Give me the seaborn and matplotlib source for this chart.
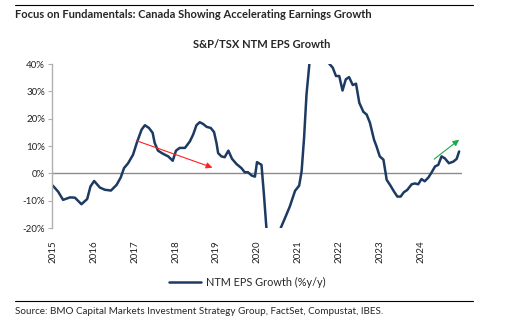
import numpy as np
import pandas as pd
import matplotlib
matplotlib.use("Agg")
import matplotlib.pyplot as plt
import seaborn as sns
from matplotlib.lines import Line2D

# S&P/TSX NTM EPS growth, % y/y (decimal year, value)
years = [2015.00, 2015.13, 2015.25, 2015.42, 2015.54, 2015.70, 2015.84, 2015.92,
         2016.01, 2016.15, 2016.27, 2016.42, 2016.56, 2016.66, 2016.74, 2016.84,
         2016.96, 2017.06, 2017.17, 2017.25, 2017.35, 2017.44, 2017.49, 2017.57,
         2017.70, 2017.82, 2017.93, 2018.01, 2018.10, 2018.23, 2018.35, 2018.43,
         2018.51, 2018.59, 2018.67, 2018.76, 2018.86, 2018.94, 2019.00, 2019.04,
         2019.12, 2019.20, 2019.29, 2019.38, 2019.49, 2019.61, 2019.69, 2019.77,
         2019.86, 2019.94, 2019.99, 2020.10, 2020.16, 2020.22, 2020.30, 2020.40,
         2020.50, 2020.57, 2020.67, 2020.79, 2020.92, 2021.02, 2021.08, 2021.14,
         2021.20, 2021.27, 2021.35, 2021.45, 2021.55, 2021.65, 2021.76, 2021.84,
         2021.92, 2022.00, 2022.08, 2022.16, 2022.24, 2022.33, 2022.41, 2022.49,
         2022.59, 2022.67, 2022.75, 2022.85, 2022.91, 2022.99, 2023.08, 2023.16,
         2023.24, 2023.34, 2023.42, 2023.50, 2023.58, 2023.66, 2023.77, 2023.85,
         2023.93, 2024.01, 2024.09, 2024.18, 2024.26, 2024.34, 2024.42, 2024.50,
         2024.58, 2024.68, 2024.79, 2024.87, 2024.93]
growth = [-4.5, -6.7, -9.7, -8.8, -8.9, -11.3, -9.4, -4.8,
          -2.8, -5.2, -6.0, -6.3, -4.2, -1.5, 1.9, 3.7,
          6.8, 11.5, 16.0, 17.6, 16.6, 14.8, 11.1, 8.3,
          7.1, 6.2, 4.6, 8.3, 9.3, 9.3, 11.7, 14.2,
          17.6, 18.7, 18.1, 17.0, 16.6, 15.1, 11.1, 7.4,
          6.2, 5.9, 8.3, 5.3, 3.4, 1.9, 0.4, 0.4,
          -0.8, -1.2, 4.1, 3.1, -7.9, -20.0, -30.0, -35.0,
          -28.0, -20.0, -16.5, -12.2, -6.4, -4.5, 0.7, 12.9,
          28.9, 40.0, 62.0, 80.0, 72.0, 56.0, 40.0, 38.7,
          35.6, 35.6, 30.3, 34.4, 35.2, 32.3, 32.8, 25.8,
          22.5, 21.5, 18.5, 12.3, 9.9, 6.2, 5.0, -2.4,
          -4.2, -6.7, -8.5, -8.5, -6.9, -6.1, -4.0, -3.7,
          -4.0, -2.1, -2.9, -1.5, 0.4, 2.5, 3.1, 6.2,
          5.5, 3.7, 4.3, 5.3, 8.0]

year_ticks = list(range(2015, 2025))
pct_ticks = [-20, -10, 0, 10, 20, 30, 40]

# trend arrows: (start year, start %, end year, end %)
down_arrow = (2017.05, 11.9, 2018.90, 2.1)
up_arrow = (2024.32, 5.2, 2024.93, 12.3)

df = pd.DataFrame({"year": years, "growth": growth})

sns.set_theme(style="white")
plt.rcParams["font.family"] = ["Lato", "DejaVu Sans"]

fig = plt.figure(figsize=(5.14, 3.24), dpi=100)
ax = fig.add_axes([52 / 514, 1 - 228 / 324, 410 / 514, 164 / 324])

navy = "#1d3a62"
sns.lineplot(data=df, x="year", y="growth", ax=ax, color=navy, linewidth=1.8,
             legend=False)

ax.axhline(0, color="#8c8c8c", linewidth=1.0, zorder=1)

ax.set_xlim(2014.98, 2025.0)
ax.set_ylim(-20, 40)
ax.set_yticks(pct_ticks)
ax.set_yticklabels([f"{v}%" for v in pct_ticks], fontsize=7, color="#222222")
ax.set_xticks(year_ticks)
ax.set_xticklabels([str(y) for y in year_ticks], rotation=90, fontsize=7,
                   color="#222222")
ax.set_xlabel("")
ax.set_ylabel("")

for side in ["top", "right", "bottom"]:
    ax.spines[side].set_visible(False)
ax.spines["left"].set_color("#b0b0b0")
ax.spines["left"].set_linewidth(1.0)
ax.tick_params(axis="y", left=True, length=3, width=0.8, color="#b0b0b0", pad=2)
ax.tick_params(axis="x", bottom=False, pad=3)

for (x0, y0, x1, y1), col in [(down_arrow, "#ff2020"), (up_arrow, "#1aaa4a")]:
    ax.annotate("", xy=(x1, y1), xytext=(x0, y0),
                arrowprops=dict(arrowstyle="-|>", color=col, lw=0.8,
                                mutation_scale=9, shrinkA=0, shrinkB=0))

# legend below the axis labels
handle = [Line2D([0], [0], color=navy, lw=1.8)]
fig.legend(handle, ["NTM EPS Growth (%y/y)"], loc="center",
           bbox_to_anchor=(247 / 514, 1 - 282 / 324), frameon=False,
           fontsize=7.8, handlelength=3.0, handletextpad=0.4)

# header and footer
fig.add_artist(Line2D([15 / 514, 473 / 514], [1 - 5 / 324] * 2, color="black", lw=0.8))
fig.text(15 / 514, 1 - 15 / 324, "Focus on Fundamentals: Canada Showing Accelerating Earnings Growth",
         fontsize=8, fontweight="bold", va="center", ha="left")
fig.text(262 / 514, 1 - 45 / 324, "S&P/TSX NTM EPS Growth", fontsize=8,
         fontweight="bold", va="center", ha="center")
fig.add_artist(Line2D([15 / 514, 473 / 514], [1 - 301 / 324] * 2, color="black", lw=0.8))
fig.text(15 / 514, 1 - 312 / 324,
         "Source: BMO Capital Markets Investment Strategy Group, FactSet, Compustat, IBES.",
         fontsize=7.1, va="center", ha="left")

fig.savefig("out.png", dpi=100)
